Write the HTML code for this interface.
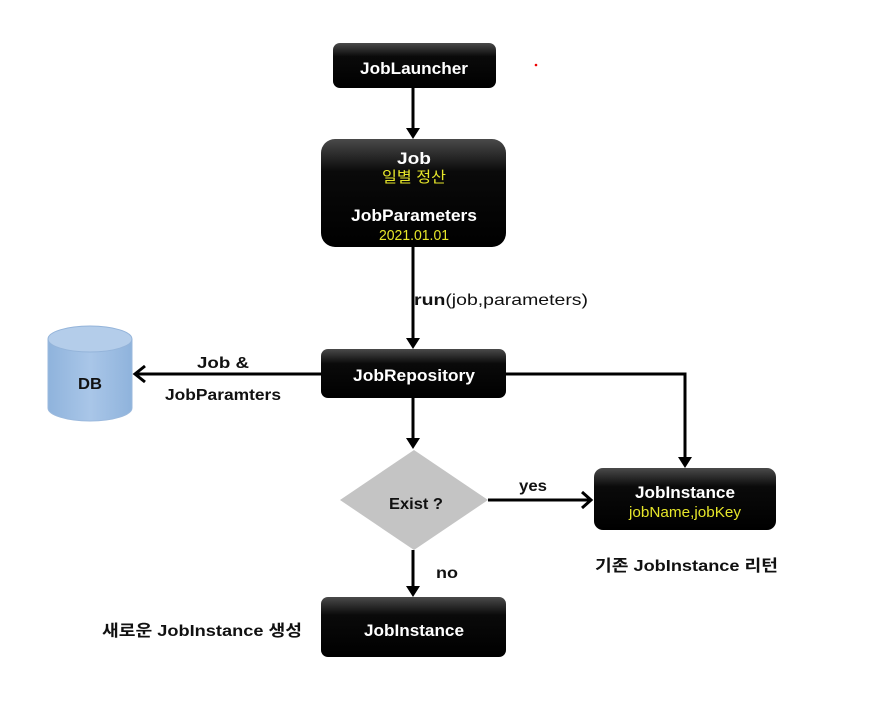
<!DOCTYPE html>
<html><head><meta charset="utf-8"><style>
html,body{margin:0;padding:0;background:#fff;}
svg{display:block;}
text{font-family:"Liberation Sans","Noto Sans CJK KR",sans-serif;font-weight:bold;}
.n{font-weight:normal;}
</style></head><body>
<svg width="881" height="723" viewBox="0 0 881 723" xmlns="http://www.w3.org/2000/svg">
<defs>
<linearGradient id="bx" x1="0" y1="0" x2="0" y2="1">
<stop offset="0" stop-color="#4a4a4a"/><stop offset="0.3" stop-color="#0a0a0a"/><stop offset="1" stop-color="#000"/>
</linearGradient>
<linearGradient id="cy" x1="0" y1="0" x2="1" y2="0">
<stop offset="0" stop-color="#8fb3dc"/><stop offset="0.5" stop-color="#a9c6e8"/><stop offset="1" stop-color="#8fb3dc"/>
</linearGradient>
</defs>
<circle cx="536" cy="65" r="1.3" fill="#e00"/>
<g stroke="#000" stroke-width="3" fill="none">
<line x1="413" y1="88" x2="413" y2="130"/>
<line x1="413" y1="247" x2="413" y2="340"/>
<line x1="413" y1="398" x2="413" y2="440"/>
<line x1="413" y1="550" x2="413" y2="588"/>
<polyline points="506,374 685,374 685,459"/>
<line x1="321" y1="374" x2="136" y2="374"/>
<line x1="488" y1="500" x2="590" y2="500"/>
<polyline points="145,366 135,374 145,382"/>
<polyline points="582,492 591,500 582,508"/>
</g>
<g fill="#000">
<polygon points="406,128 420,128 413,139"/>
<polygon points="406,338 420,338 413,349"/>
<polygon points="406,438 420,438 413,449"/>
<polygon points="406,586 420,586 413,597"/>
<polygon points="678,457 692,457 685,468"/>
</g>
<rect x="333" y="43" width="163" height="45" rx="7" fill="url(#bx)"/>
<rect x="321" y="139" width="185" height="108" rx="14" fill="url(#bx)"/>
<rect x="321" y="349" width="185" height="49" rx="7" fill="url(#bx)"/>
<rect x="594" y="468" width="182" height="62" rx="9" fill="url(#bx)"/>
<rect x="321" y="597" width="185" height="60" rx="7" fill="url(#bx)"/>
<polygon points="414,450 488,500 414,550 340,500" fill="#c4c4c4"/>
<path d="M48,339 L48,408 A42,13 0 0 0 132,408 L132,339" fill="url(#cy)" stroke="#9bb9dd"/>
<ellipse cx="90" cy="339" rx="42" ry="13" fill="#b4cdea" stroke="#94b4da"/>
<g text-anchor="middle" font-size="17" fill="#fff">
<text x="414" y="74" textLength="108" lengthAdjust="spacingAndGlyphs">JobLauncher</text>
<text x="414" y="164" textLength="34" lengthAdjust="spacingAndGlyphs">Job</text>
<text x="414" y="221" textLength="126" lengthAdjust="spacingAndGlyphs">JobParameters</text>
<text x="414" y="381" textLength="122" lengthAdjust="spacingAndGlyphs">JobRepository</text>
<text x="685" y="498" textLength="100" lengthAdjust="spacingAndGlyphs">JobInstance</text>
<text x="414" y="636" textLength="100" lengthAdjust="spacingAndGlyphs">JobInstance</text>
</g>
<g text-anchor="middle" font-size="15" fill="#e6e62a">
<text class="n" x="414" y="182" textLength="64" lengthAdjust="spacingAndGlyphs">일별 정산</text>
<text class="n" x="414" y="240" textLength="70" lengthAdjust="spacingAndGlyphs">2021.01.01</text>
<text class="n" x="685" y="517" textLength="112" lengthAdjust="spacingAndGlyphs">jobName,jobKey</text>
</g>
<g font-size="16" fill="#111">
<text x="90" y="389" text-anchor="middle" textLength="24" lengthAdjust="spacingAndGlyphs">DB</text>
<text x="197" y="368" textLength="52" lengthAdjust="spacingAndGlyphs">Job &amp;</text>
<text x="165" y="400" textLength="116" lengthAdjust="spacingAndGlyphs">JobParamters</text>
<text x="416" y="509" text-anchor="middle" textLength="54" lengthAdjust="spacingAndGlyphs">Exist ?</text>
<text x="519" y="491" textLength="28" lengthAdjust="spacingAndGlyphs">yes</text>
<text x="436" y="578" textLength="22" lengthAdjust="spacingAndGlyphs">no</text>
<text x="414" y="305" textLength="174" lengthAdjust="spacingAndGlyphs">run<tspan class="n">(job,parameters)</tspan></text>
<text x="595" y="571" textLength="183" lengthAdjust="spacingAndGlyphs">기존 JobInstance 리턴</text>
<text x="102" y="636" textLength="200" lengthAdjust="spacingAndGlyphs">새로운 JobInstance 생성</text>
</g>
</svg>
</body></html>
